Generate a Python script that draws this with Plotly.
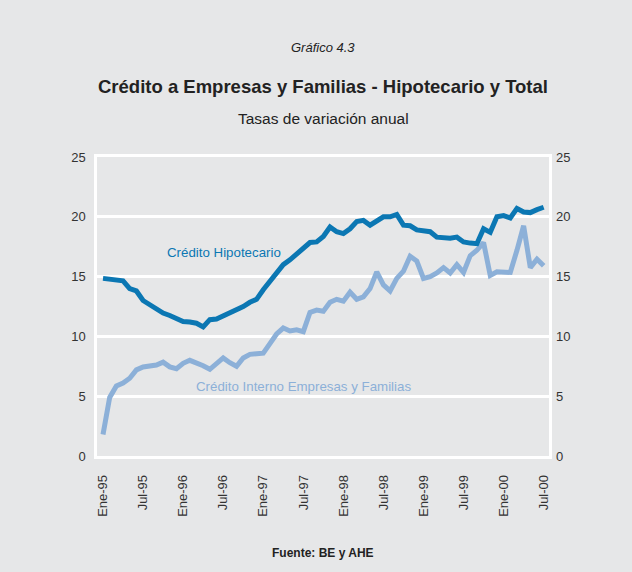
import plotly.graph_objects as go

# Monthly series, Ene-95 .. Jul-00 (67 months)
months = list(range(67))

hipotecario = [
    14.85, 14.75, 14.7, 14.65, 14.0, 13.8, 13.0, 12.65, 12.4, 11.95, 11.75, 11.5,
    11.25, 11.2, 11.1, 10.8, 11.4, 11.45, 11.7, 12.05, 12.3, 12.5, 12.85, 13.1,
    13.9, 14.6, 15.4, 16.0, 16.4, 16.9, 17.4, 17.85, 17.9, 18.35, 19.15, 18.75,
    18.6, 19.0, 19.6, 19.7, 19.3, 19.6, 20.0, 20.0, 20.2, 19.3, 19.25, 18.9,
    18.8, 18.75, 18.3, 18.2, 18.2, 18.3, 17.9, 17.8, 17.75, 19.0, 18.7, 20.0,
    20.1, 19.9, 20.7, 20.4, 20.35, 20.6, 20.8,
]

interno = [
    1.8, 4.9, 5.85, 6.1, 6.5, 7.2, 7.45, 7.5, 7.6, 7.85, 7.45, 7.3,
    7.75, 8.0, 7.8, 7.55, 7.25, 7.75, 8.2, 7.8, 7.5, 8.2, 8.5, 8.55,
    8.6, 9.4, 10.2, 10.7, 10.45, 10.55, 10.4, 12.0, 12.2, 12.1, 12.85, 13.1,
    12.95, 13.7, 13.1, 13.3, 14.0, 15.4, 14.3, 13.8, 14.85, 15.45, 16.7, 16.3,
    14.85, 15.0, 15.3, 15.75, 15.3, 16.0, 15.35, 16.75, 17.2, 17.85, 15.1, 15.4,
    15.4, 15.35, 17.2, 19.25, 15.75, 16.45, 15.9,
]

tick_pos = [0, 6, 12, 18, 24, 30, 36, 42, 48, 54, 60, 66]
tick_text = ["Ene-95", "Jul-95", "Ene-96", "Jul-96", "Ene-97", "Jul-97",
             "Ene-98", "Jul-98", "Ene-99", "Jul-99", "Ene-00", "Jul-00"]
y_ticks = [0, 5, 10, 15, 20, 25]

DARK = "#0B77B3"
LIGHT = "#8CB0D8"
BG = "#E6E7E8"
FONT = "Liberation Sans, Arial, sans-serif"

fig = go.Figure()
fig.add_trace(go.Scatter(x=months, y=interno, mode="lines",
                         line=dict(color=LIGHT, width=5), showlegend=False))
fig.add_trace(go.Scatter(x=months, y=hipotecario, mode="lines",
                         line=dict(color=DARK, width=5), showlegend=False))
# invisible trace to carry the right-hand axis
fig.add_trace(go.Scatter(x=months, y=hipotecario, yaxis="y2", mode="lines",
                         line=dict(width=0), opacity=0, hoverinfo="skip",
                         showlegend=False))

axis_font = dict(family=FONT, size=13, color="#333333")

fig.update_layout(
    width=632, height=572,
    margin=dict(l=97, r=83, t=157, b=116),
    paper_bgcolor=BG, plot_bgcolor=BG,
    font=dict(family=FONT, color="#222222"),
    xaxis=dict(range=[-0.9, 66.8], tickvals=tick_pos, ticktext=tick_text,
               tickangle=-90, tickfont=dict(family=FONT, size=13, color="#333333"),
               showgrid=False, zeroline=False, showline=True, linecolor="white",
               linewidth=2.5, mirror=True, ticks="", ticklabelstandoff=11),
    yaxis=dict(range=[0, 25], tickvals=y_ticks, tickfont=axis_font,
               showgrid=True, gridcolor="white", gridwidth=2.5, zeroline=False,
               showline=True, linecolor="white", linewidth=2.5, mirror=True,
               ticks="", ticklabelstandoff=6),
    yaxis2=dict(range=[0, 25], tickvals=y_ticks, tickfont=axis_font,
                overlaying="y", side="right", showgrid=False, zeroline=False,
                showline=False, ticks="", ticklabelstandoff=6),
)

annotations = [
    dict(text="<i>Gráfico 4.3</i>", x=0.5, y=(456 - 47) / 299,
         font=dict(size=13, color="#222222")),
    dict(text="<b>Crédito a Empresas y Familias - Hipotecario y Total</b>",
         x=0.5, y=(456 - 87) / 299, font=dict(size=18.5, color="#222222")),
    dict(text="Tasas de variación anual", x=0.5, y=(456 - 118) / 299,
         font=dict(size=15.5, color="#222222")),
    dict(text="<b>Fuente: BE y AHE</b>", x=0.5, y=(456 - 553) / 299,
         font=dict(size=12, color="#222222")),
]
for a in annotations:
    fig.add_annotation(xref="paper", yref="paper", showarrow=False,
                       xanchor="center", yanchor="middle",
                       font_family=FONT, **{k: v for k, v in a.items()})

fig.add_annotation(x=18.1, y=17.05, text="Crédito Hipotecario", showarrow=False,
                   font=dict(family=FONT, size=13.3, color=DARK))
fig.add_annotation(x=30.0, y=5.85, text="Crédito Interno Empresas y Familias",
                   showarrow=False, font=dict(family=FONT, size=13.3, color=LIGHT))

fig.write_html("out.html")
